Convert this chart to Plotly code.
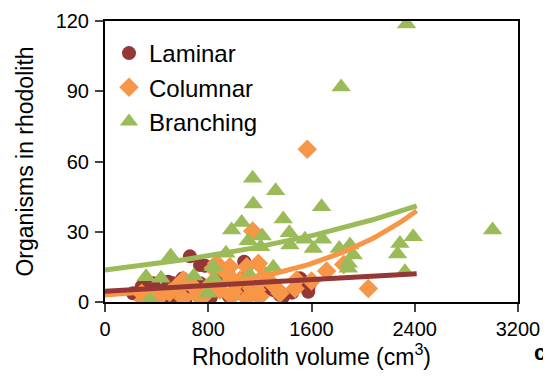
import numpy as np
import plotly.graph_objects as go

# ---- data ----
laminar_x = [658, 736, 1078, 775, 284, 374, 490, 542, 581, 710, 878, 891, 1046, 1136, 1252,
             1356, 1510, 1575, 1588, 217, 349, 529, 555, 478, 620, 736, 955, 1020, 1304, 1381,
             1562, 1523, 1575, 420, 650, 820, 960, 1180, 1450, 1100, 300, 600]
laminar_y = [19.5, 15.8, 17.2, 15.5, 6.5, 8, 8.7, 5.1, 1.6, 3.7, 10.8, 5.1, 3.7, 7.3, 5.8,
             3, 10.1, 4.4, 8, 3.7, 7.3, 8, 0.9, 1.6, 0.5, 8, 11.5, 6.5, 5.1, 2.3,
             8, 9.4, 5.8, 5, 5, 2, 2.5, 3, 4, 11, 4.5, 10]

columnar_x = [1567, 1144, 1717, 2040, 1850, 865, 968, 1188, 981, 1098, 1226, 1356, 1472, 1201,
              981, 762, 607, 426, 284, 658, 813, 1136, 555, 839, 942, 1098, 1239, 1046, 891,
              994, 1175, 1342, 1098, 297, 607, 710, 500, 1290, 1485, 1600]
columnar_y = [65.2, 30.3, 13.2, 5.8, 16, 16.5, 15.1, 16.5, 9.4, 10.1, 10.1, 3.7, 5.8, 2.3,
              2.3, 2.3, 1.6, 2.3, 3.7, 8, 7.3, 5.8, 6.5, 14.4, 12.3, 15.1, 11.5, 9.4, 5.1,
              4.4, 5.1, 5.1, 1.6, 0.9, 9.4, 3, 4, 8, 9.4, 9]

branching_x = [2337, 1830, 1144, 1322, 1149, 1678, 1381, 1059, 981, 1428, 1218, 1110, 1549,
               1686, 1614, 1433, 1206, 937, 509, 839, 689, 434, 318, 1304, 846, 1123, 795,
               349, 1815, 1898, 1923, 1885, 1885, 2285, 2267, 2388, 2324, 3003]
branching_y = [118.7, 91.8, 52.8, 47.5, 41.8, 40.7, 35.4, 33.9, 30.7, 29.6, 28.2, 26.2, 26.8,
               26.8, 22.9, 24.3, 23.6, 20.8, 19.6, 15.1, 11.1, 10.1, 10.8, 14.8, 10.1, 11.5, 3.7,
               1.1, 22.9, 24.3, 20.1, 16.5, 14.4, 25, 20.5, 27.9, 12.9, 30.7]

# trend lines
trend_x_max = 2415
laminar_trend = (4.6, 0.0031)          # linear: a + b*x
columnar_trend = (3.0, 0.001062)       # exponential: a*exp(b*x)
branching_trend = (13.7, 0.000454)     # exponential: a*exp(b*x)

x_ticks = [0, 800, 1600, 2400, 3200]
y_ticks = [0, 30, 60, 90, 120]

C_LAM = "#953735"
C_COL = "#F79646"
C_BRA = "#9BBB59"

FONT = "Liberation Sans, Arial, sans-serif"

# page has an 8px body margin; size the figure so the page fits the 551x382 window
OFF = 8
W, H = 551 - OFF, 382 - 2 * OFF
ML, MT = 105 - OFF, 21 - OFF
pw, ph = 413, 281
MR, MB = W - ML - pw, H - MT - ph

tx = np.linspace(0, trend_x_max, 100)

fig = go.Figure()
fig.add_trace(go.Scatter(x=laminar_x, y=laminar_y, mode="markers", name="Laminar",
                         marker=dict(symbol="circle", size=14, color=C_LAM)))
fig.add_trace(go.Scatter(x=columnar_x, y=columnar_y, mode="markers", name="Columnar",
                         marker=dict(symbol="diamond", size=15, color=C_COL)))
fig.add_trace(go.Scatter(x=branching_x, y=branching_y, mode="markers", name="Branching",
                         marker=dict(symbol="triangle-up", size=17, color=C_BRA)))

fig.add_trace(go.Scatter(x=tx, y=columnar_trend[0] * np.exp(columnar_trend[1] * tx), mode="lines",
                         line=dict(color=C_COL, width=5), showlegend=False, hoverinfo="skip"))
fig.add_trace(go.Scatter(x=tx, y=laminar_trend[0] + laminar_trend[1] * tx, mode="lines",
                         line=dict(color=C_LAM, width=5), showlegend=False, hoverinfo="skip"))
fig.add_trace(go.Scatter(x=tx, y=branching_trend[0] * np.exp(branching_trend[1] * tx), mode="lines",
                         line=dict(color=C_BRA, width=5), showlegend=False, hoverinfo="skip"))

fig.update_layout(
    width=W, height=H,
    margin=dict(l=ML, r=MR, t=MT, b=MB, autoexpand=False),
    paper_bgcolor="white", plot_bgcolor="white",
    font=dict(family=FONT, size=20, color="black"),
    showlegend=True,
    legend=dict(x=(109 - OFF - ML) / pw, y=1 - (31 - OFF - MT) / ph, xanchor="left", yanchor="top",
                font=dict(size=24), itemwidth=30, bgcolor="rgba(0,0,0,0)",
                tracegroupgap=0),
    xaxis=dict(range=[0, 3200], tickvals=x_ticks, ticks="outside", ticklen=8, tickwidth=2,
               showline=True, linewidth=2, linecolor="black", mirror=True, showgrid=False,
               zeroline=False, tickfont=dict(size=20), automargin=False,
               title=dict(text="Rhodolith volume (cm<sup>3</sup>)", font=dict(size=23), standoff=4)),
    yaxis=dict(range=[0, 120], tickvals=y_ticks, ticks="outside", ticklen=8, tickwidth=2,
               showline=True, linewidth=2, linecolor="black", mirror=True, showgrid=False,
               zeroline=False, tickfont=dict(size=20), automargin=False, ticklabelstandoff=2,
               title=dict(text="Organisms in rhodolith", font=dict(size=23), standoff=16)),
    annotations=[dict(text="<b>c</b>", x=(540 - OFF - ML) / pw, y=(H - MB - (352 - OFF)) / ph,
                      xref="paper", yref="paper", xanchor="center", yanchor="middle",
                      showarrow=False, font=dict(size=22))],
)

fig.write_html("out.html")
